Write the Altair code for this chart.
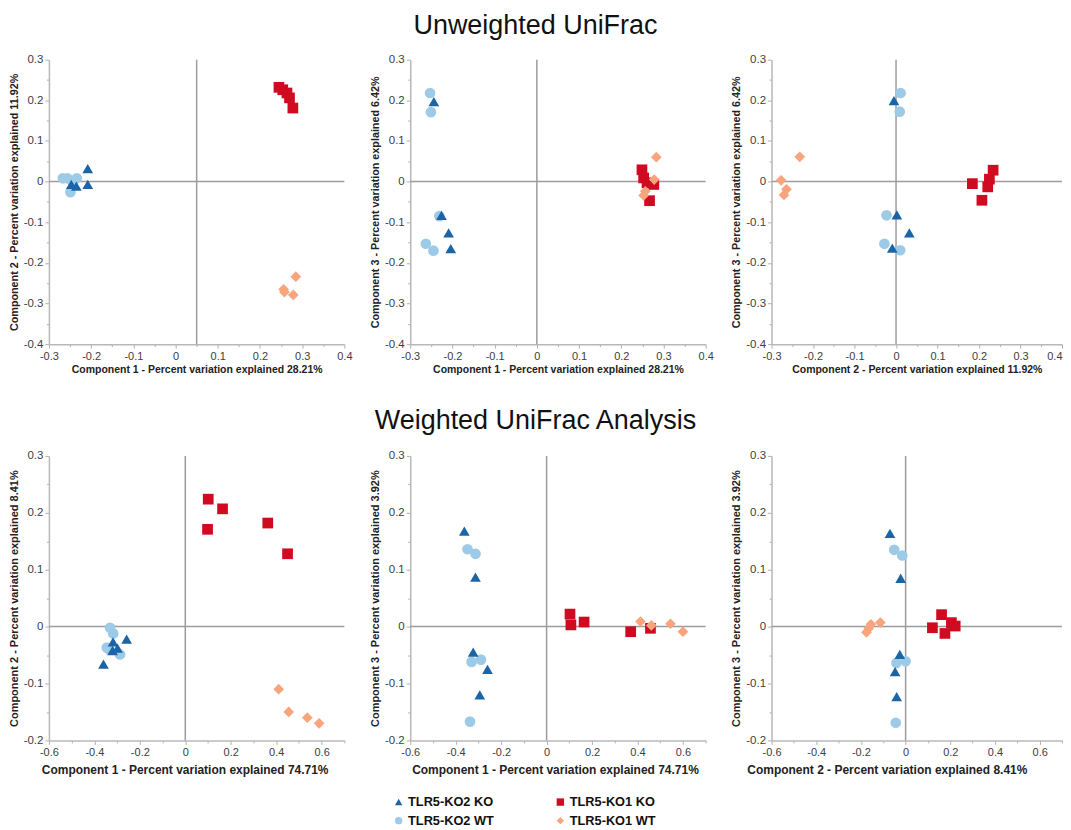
import altair as alt
import pandas as pd

FONT = "Liberation Sans"

GROUPS = ["TLR5-KO2 KO", "TLR5-KO1 KO", "TLR5-KO2 WT", "TLR5-KO1 WT"]
COLORS = ["#1B65A6", "#D00A20", "#9DCBE7", "#F8A47C"]
SHAPES = ["triangle-up", "square", "circle", "diamond"]
DRAW_ORDER = ["TLR5-KO2 WT", "TLR5-KO2 KO", "TLR5-KO1 KO", "TLR5-KO1 WT"]

# ---------- Unweighted UniFrac ----------
# Component 1 vs Component 2
UW_C1_C2 = {
    "TLR5-KO2 KO": ([-0.208, -0.208, -0.235, -0.247], [0.032, -0.007, -0.011, -0.007]),
    "TLR5-KO2 WT": ([-0.267, -0.256, -0.234, -0.249, -0.244], [0.008, 0.008, 0.008, -0.026, 0.0]),
    "TLR5-KO1 KO": ([0.245, 0.254, 0.264, 0.270, 0.278], [0.232, 0.226, 0.218, 0.206, 0.181]),
    "TLR5-KO1 WT": ([0.285, 0.256, 0.258, 0.279], [-0.234, -0.265, -0.272, -0.279]),
}
# Component 1 vs Component 3
UW_C1_C3 = {
    "TLR5-KO2 KO": ([-0.244, -0.226, -0.209, -0.204], [0.197, -0.083, -0.126, -0.165]),
    "TLR5-KO2 WT": ([-0.253, -0.251, -0.231, -0.263, -0.245], [0.218, 0.171, -0.085, -0.153, -0.170]),
    "TLR5-KO1 KO": ([0.249, 0.253, 0.261, 0.277, 0.267], [0.029, 0.009, -0.003, -0.007, -0.047]),
    "TLR5-KO1 WT": ([0.283, 0.278, 0.257, 0.253], [0.060, 0.005, -0.024, -0.034]),
}
# Component 2 vs Component 3
UW_C2_C3 = {
    "TLR5-KO2 KO": ([-0.005, 0.002, 0.032, -0.009], [0.199, -0.082, -0.126, -0.164]),
    "TLR5-KO2 WT": ([0.011, 0.009, -0.023, -0.028, 0.010], [0.218, 0.172, -0.083, -0.153, -0.169]),
    "TLR5-KO1 KO": ([0.184, 0.207, 0.221, 0.225, 0.234], [-0.005, -0.046, -0.013, 0.006, 0.028]),
    "TLR5-KO1 WT": ([-0.232, -0.277, -0.264, -0.270], [0.061, 0.003, -0.019, -0.033]),
}

# ---------- Weighted UniFrac ----------
W_C1_C2 = {
    "TLR5-KO2 KO": ([-0.258, -0.360, -0.298, -0.318, -0.320], [-0.022, -0.066, -0.038, -0.027, -0.042]),
    "TLR5-KO2 WT": ([-0.331, -0.317, -0.345, -0.335, -0.287], [-0.002, -0.012, -0.037, -0.040, -0.049]),
    "TLR5-KO1 KO": ([0.101, 0.164, 0.098, 0.363, 0.450], [0.224, 0.207, 0.171, 0.182, 0.128]),
    "TLR5-KO1 WT": ([0.411, 0.455, 0.537, 0.589], [-0.110, -0.150, -0.160, -0.170]),
}
W_C1_C3 = {
    "TLR5-KO2 KO": ([-0.362, -0.313, -0.323, -0.260, -0.294], [0.168, 0.087, -0.045, -0.075, -0.120]),
    "TLR5-KO2 WT": ([-0.348, -0.313, -0.330, -0.289, -0.337], [0.136, 0.128, -0.062, -0.058, -0.167]),
    "TLR5-KO1 KO": ([0.103, 0.107, 0.165, 0.370, 0.457], [0.022, 0.003, 0.008, -0.009, -0.003]),
    "TLR5-KO1 WT": ([0.413, 0.461, 0.545, 0.600], [0.009, 0.002, 0.005, -0.009]),
}
W_C2_C3 = {
    "TLR5-KO2 KO": ([-0.070, -0.022, -0.026, -0.047, -0.040], [0.164, 0.085, -0.049, -0.079, -0.123]),
    "TLR5-KO2 WT": ([-0.051, -0.015, -0.041, 0.0, -0.044], [0.135, 0.125, -0.064, -0.061, -0.169]),
    "TLR5-KO1 KO": ([0.161, 0.120, 0.176, 0.205, 0.222], [0.021, -0.002, -0.012, 0.007, 0.001]),
    "TLR5-KO1 WT": ([-0.113, -0.155, -0.165, -0.175], [0.007, 0.004, -0.003, -0.010]),
}

# axis tick values (major + minor)
UW_TICKS_X = [-0.3, -0.25, -0.2, -0.15, -0.1, -0.05, 0, 0.05, 0.1, 0.15, 0.2, 0.25, 0.3, 0.35, 0.4]
UW_TICKS_Y = [-0.4, -0.35, -0.3, -0.25, -0.2, -0.15, -0.1, -0.05, 0, 0.05, 0.1, 0.15, 0.2, 0.25, 0.3]
W_TICKS_X = [-0.6, -0.5, -0.4, -0.3, -0.2, -0.1, 0, 0.1, 0.2, 0.3, 0.4, 0.5, 0.6, 0.7]
W_TICKS_Y = [-0.2, -0.15, -0.1, -0.05, 0, 0.05, 0.1, 0.15, 0.2, 0.25, 0.3]

MAJ10 = "abs(datum.value*10 - round(datum.value*10)) < 0.001"
MAJ5 = "abs(datum.value*5 - round(datum.value*5)) < 0.001"


def make_axis(title, values, major, title_size, label_size, title_pad,
              title_shift=None, last_right=False):
    kw = {}
    if title_shift is not None:
        kw["titleX"] = title_shift
    if last_right:
        kw["labelAlign"] = {"condition": {"test": "datum.value > 0.39", "value": "right"},
                            "value": "center"}
    return alt.Axis(
        title=title,
        values=values,
        labelExpr=f"({major}) ? toString(round(datum.value*10)/10) : ''",
        tickSize={"condition": {"test": major, "value": 4}, "value": 2.5},
        tickColor="#b0b0b0",
        domainColor="#b8b8b8",
        domainWidth=1.5,
        grid=False,
        labelFont=FONT,
        labelFontSize=label_size,
        labelColor="#404040",
        labelPadding=2,
        labelOverlap=False,
        labelFlush=False,
        titleFont=FONT,
        titleFontSize=title_size,
        titleFontWeight="bold",
        titleColor="#222222",
        titlePadding=title_pad,
        **kw,
    )


LEGEND = alt.Legend(
    title=None,
    orient="none",
    legendX=344,
    legendY=737,
    direction="horizontal",
    columns=2,
    columnPadding=60,
    rowPadding=5,
    labelFont=FONT,
    labelFontSize=12.8,
    labelFontWeight="bold",
    labelColor="#111111",
    labelOffset=3,
    symbolSize=55,
    symbolStrokeWidth=0,
)


def panel(data, xdom, ydom, xticks, yticks, xmaj, xtitle, ytitle, crossx,
          w, h, xts, xtp, yts, title_dx=0, last_right=False):
    rows = []
    for g in DRAW_ORDER:
        xs, ys = data[g]
        for a, b in zip(xs, ys):
            rows.append({"x": a, "y": b, "group": g})
    df = pd.DataFrame(rows)
    xs_ = alt.Scale(domain=xdom, nice=False, zero=False)
    ys_ = alt.Scale(domain=ydom, nice=False, zero=False)
    shift = (w / 2 + title_dx) if title_dx else None
    xax = make_axis(xtitle, xticks, xmaj, xts, 11, xtp, shift, last_right)
    yax = make_axis(ytitle, yticks, MAJ10, yts, 11.5, 4)
    pts = alt.Chart(df).mark_point(filled=True, opacity=1, size=115).encode(
        x=alt.X("x:Q", scale=xs_, axis=xax),
        y=alt.Y("y:Q", scale=ys_, axis=yax),
        color=alt.Color("group:N", scale=alt.Scale(domain=GROUPS, range=COLORS), legend=LEGEND),
        shape=alt.Shape("group:N", scale=alt.Scale(domain=GROUPS, range=SHAPES), legend=LEGEND),
    )
    vr = alt.Chart(pd.DataFrame({"x": [crossx]})).mark_rule(color="#9c9c9c", strokeWidth=1.5).encode(
        x=alt.X("x:Q", scale=xs_, axis=xax))
    hr = alt.Chart(pd.DataFrame({"y": [0]})).mark_rule(color="#9c9c9c", strokeWidth=1.5).encode(
        y=alt.Y("y:Q", scale=ys_, axis=yax))
    return alt.layer(vr, hr, pts).properties(width=w, height=h)


UW_XD, UW_YD = [-0.3, 0.4], [-0.4, 0.3]
W_XD, W_YD = [-0.6, 0.7], [-0.2, 0.3]

PW, PH = 296, 285
LAST_W = 291

p1 = panel(UW_C1_C2, UW_XD, UW_YD, UW_TICKS_X, UW_TICKS_Y, MAJ10,
           "Component 1 - Percent variation explained 28.21%",
           "Component 2 - Percent variation explained 11.92%", 0.05, PW, PH, 10.5, 3, 10.8)
p2 = panel(UW_C1_C3, UW_XD, UW_YD, UW_TICKS_X, UW_TICKS_Y, MAJ10,
           "Component 1 - Percent variation explained 28.21%",
           "Component 3 - Percent variation explained 6.42%", 0, PW, PH, 10.5, 3, 10.8)
p3 = panel(UW_C2_C3, UW_XD, UW_YD, UW_TICKS_X, UW_TICKS_Y, MAJ10,
           "Component 2 - Percent variation explained 11.92%",
           "Component 3 - Percent variation explained 6.42%", 0, LAST_W, PH, 10.5, 3, 10.8,
           last_right=True)
p4 = panel(W_C1_C2, W_XD, W_YD, W_TICKS_X, W_TICKS_Y, MAJ5,
           "Component 1 - Percent variation explained 74.71%",
           "Component 2 - Percent variation explained 8.41%", 0, PW, PH, 12, 7, 11,
           title_dx=-12)
p5 = panel(W_C1_C3, W_XD, W_YD, W_TICKS_X, W_TICKS_Y, MAJ5,
           "Component 1 - Percent variation explained 74.71%",
           "Component 3 - Percent variation explained 3.92%", 0, PW, PH, 12, 7, 11,
           title_dx=-3)
p6 = panel(W_C2_C3, W_XD, W_YD, W_TICKS_X, W_TICKS_Y, MAJ5,
           "Component 2 - Percent variation explained 8.41%",
           "Component 3 - Percent variation explained 3.92%", 0, LAST_W, PH, 12, 7, 11,
           title_dx=-30)


def row_title(text, offset):
    return alt.TitleParams(text, font=FONT, fontSize=27, fontWeight="normal",
                           color="#111111", anchor="middle", offset=offset)


row1 = alt.hconcat(p1, p2, p3, spacing=66, bounds="flush").properties(
    title=row_title("Unweighted UniFrac", 14))
row2 = alt.hconcat(p4, p5, p6, spacing=66, bounds="flush").properties(
    title=row_title("Weighted UniFrac Analysis", 15))

chart = alt.vconcat(row1, row2, spacing=32).properties(
    padding={"left": 0, "top": 3, "right": 0, "bottom": -2}
).configure_view(stroke=None)

chart.save("out.html", embed_options={"renderer": "svg", "actions": False})
